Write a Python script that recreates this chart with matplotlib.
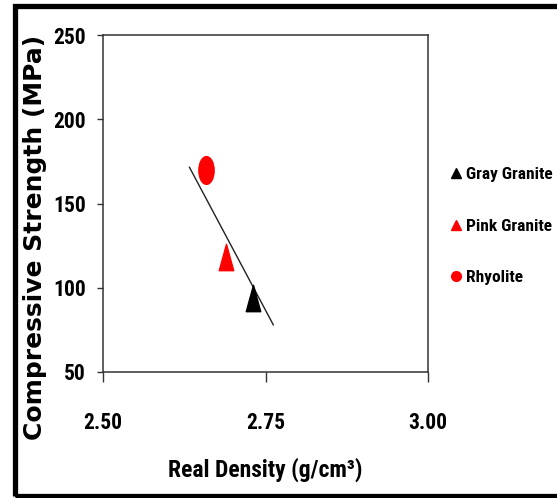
import matplotlib
matplotlib.use("Agg")
import matplotlib.pyplot as plt
from matplotlib.path import Path
from matplotlib.lines import Line2D
from matplotlib.patches import Rectangle
from matplotlib.transforms import Affine2D

# ---- data ----
rock_names = ["Gray Granite", "Pink Granite", "Rhyolite"]
density = [2.731, 2.689, 2.659]
strength = [94, 118, 170]
colors = ["black", "red", "red"]
shapes = ["tri", "tri", "circ"]
trend_x = [2.633, 2.762]
trend_y = [171.5, 78]
x_ticks = [2.50, 2.75, 3.00]
x_ticklabels = ["2.50", "2.75", "3.00"]
y_ticks = [50, 100, 150, 200, 250]

narrow = ["Liberation Sans Narrow", "Roboto Condensed", "Liberation Sans", "DejaVu Sans"]

fig = plt.figure(figsize=(5.57, 4.98), dpi=100)
ax = fig.add_axes([103/557, 1-372/498, 325/557, 337/498])

# stretched marker paths (taller than wide, as in the reference)
tri_path = Path([(-0.55, -1), (0.55, -1), (0, 1), (-0.55, -1)],
                [Path.MOVETO, Path.LINETO, Path.LINETO, Path.CLOSEPOLY])
circ_path = Path.unit_circle().transformed(Affine2D().scale(0.55, 1.0))
paths = {"tri": tri_path, "circ": circ_path}

ax.plot(trend_x, trend_y, color="#222222", lw=1.0, zorder=2)
for x, y, c, s in zip(density, strength, colors, shapes):
    ax.plot([x], [y], marker=paths[s], color=c, markersize=20 if s == "circ" else 19,
            linestyle="none", zorder=3)

ax.set_xlim(2.5, 3.0)
ax.set_ylim(50, 250)
ax.set_xticks(x_ticks)
ax.set_xticklabels(x_ticklabels)
ax.set_yticks(y_ticks)
for sp in ax.spines.values():
    sp.set_linewidth(1.1)
    sp.set_color("#333333")
ax.tick_params(axis="x", direction="out", length=7, width=1.0, pad=22, color="#333333")
ax.tick_params(axis="y", direction="out", length=4.5, width=1.0, pad=8, color="#333333")
for lab in ax.get_xticklabels() + ax.get_yticklabels():
    lab.set_fontfamily(narrow)
    lab.set_fontweight("bold")
    lab.set_fontsize(15.5)

ax.set_xlabel("Real Density (g/cm³)", fontfamily=narrow, fontsize=17, fontweight="bold")
ax.xaxis.label.set_va("center")
ax.xaxis.set_label_coords(0.5, (372-470)/337)
ax.set_ylabel("Compressive Strength (MPa)", fontfamily="DejaVu Sans", fontsize=18,
              fontweight="bold")
ax.yaxis.label.set_va("center")
ax.yaxis.set_label_coords((35-103)/325, (372-237)/337)

handles = [Line2D([], [], marker="^", color="black", linestyle="none", markersize=7),
           Line2D([], [], marker="^", color="red", linestyle="none", markersize=7),
           Line2D([], [], marker="o", color="red", linestyle="none", markersize=7)]
leg = fig.legend(handles, rock_names, loc="upper left",
                 bbox_to_anchor=(452/557, 1-167/498), frameon=False,
                 prop={"family": narrow, "weight": "bold", "size": 12.5},
                 handlelength=0.5, handletextpad=0.3, labelspacing=2.1,
                 borderaxespad=0, borderpad=0)

# outer black frame
fig.add_artist(Rectangle((14.5/557, 2.5/498), 1.0, 489/498, transform=fig.transFigure,
                         fill=False, edgecolor="black", linewidth=3.8))

fig.savefig("out.png", dpi=100)
